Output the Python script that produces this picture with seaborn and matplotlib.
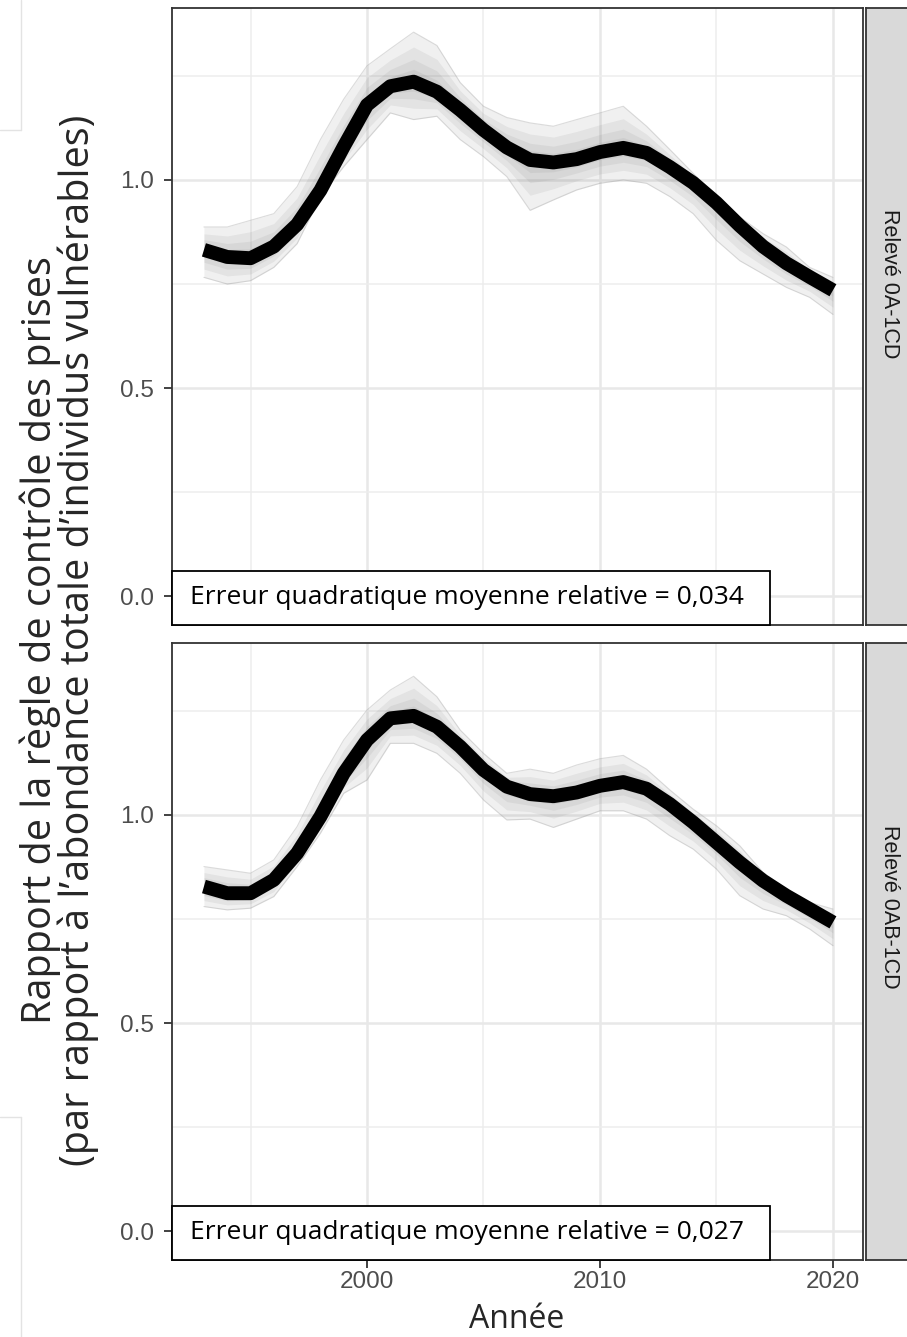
import matplotlib
matplotlib.use('Agg')
import numpy as np
import pandas as pd
import matplotlib.pyplot as plt
import seaborn as sns
from matplotlib.patches import Rectangle
from matplotlib.lines import Line2D

sns.set_theme(style="white")
plt.rcParams['font.family'] = ['Liberation Sans', 'DejaVu Sans']

# 数据
years = list(range(1993, 2021))

# Relevé 0A-1CD
main_1 = [0.832, 0.815, 0.812, 0.840, 0.893, 0.975, 1.080, 1.180, 1.225, 1.236, 1.212, 1.168,
          1.120, 1.078, 1.048, 1.042, 1.050, 1.067, 1.077, 1.065, 1.031, 0.993, 0.945, 0.890,
          0.840, 0.800, 0.767, 0.735]
hi_1 = [0.887, 0.887, 0.903, 0.919, 0.984, 1.097, 1.194, 1.274, 1.315, 1.355, 1.323, 1.234,
        1.177, 1.150, 1.137, 1.129, 1.145, 1.161, 1.177, 1.129, 1.073, 1.016, 0.960, 0.911,
        0.871, 0.839, 0.790, 0.766]
lo_1 = [0.766, 0.750, 0.758, 0.790, 0.847, 0.960, 1.032, 1.097, 1.161, 1.145, 1.153, 1.097,
        1.056, 1.008, 0.927, 0.952, 0.976, 0.992, 1.000, 0.992, 0.960, 0.919, 0.855, 0.806,
        0.774, 0.742, 0.718, 0.677]

# Relevé 0AB-1CD
main_2 = [0.828, 0.812, 0.812, 0.844, 0.908, 0.996, 1.100, 1.180, 1.232, 1.238, 1.212, 1.164,
          1.108, 1.068, 1.050, 1.045, 1.054, 1.070, 1.079, 1.063, 1.026, 0.982, 0.934, 0.886,
          0.842, 0.806, 0.774, 0.742]
hi_2 = [0.876, 0.868, 0.860, 0.892, 0.972, 1.084, 1.180, 1.252, 1.300, 1.333, 1.284, 1.204,
        1.148, 1.100, 1.110, 1.100, 1.120, 1.135, 1.143, 1.110, 1.060, 1.014, 0.974, 0.926,
        0.862, 0.822, 0.790, 0.774]
lo_2 = [0.780, 0.772, 0.776, 0.804, 0.876, 0.956, 1.052, 1.084, 1.172, 1.172, 1.148, 1.100,
        1.036, 0.988, 0.990, 0.970, 0.990, 1.010, 1.010, 0.990, 0.950, 0.918, 0.870, 0.806,
        0.774, 0.758, 0.726, 0.686]

strips = ['Relevé 0A-1CD', 'Relevé 0AB-1CD']
rmse = ['0,034', '0,027']

W, H = 907, 1337
fig = plt.figure(figsize=(W / 100, H / 100), dpi=100)


def px_axes(l, t, r, b):
    return fig.add_axes([l / W, 1 - b / H, (r - l) / W, (b - t) / H])


panels = [(8, 625, main_1, hi_1, lo_1, 0.553), (643, 1260, main_2, hi_2, lo_2, 0.572)]
main_font = ['Open Sans', 'DejaVu Sans']

for i, (top, bottom, m, hi, lo, strip_y) in enumerate(panels):
    df = pd.DataFrame({'year': years, 'main': m, 'hi': hi, 'lo': lo})
    ax = px_axes(172, top, 863, bottom)
    ax.set_facecolor('white')

    # 网格
    ax.set_xticks([2000, 2010, 2020])
    ax.set_xticks([1995, 2005, 2015], minor=True)
    ax.set_yticks([0.0, 0.5, 1.0])
    ax.set_yticks([0.25, 0.75, 1.25], minor=True)
    ax.grid(which='major', color='#e8e8e8', lw=1.8, zorder=0)
    ax.grid(which='minor', color='#ededed', lw=1.1, zorder=0)
    ax.set_axisbelow(True)

    # 模拟线的分布带
    mm = df['main'].values
    for k in [1.0, 0.7, 0.45, 0.25]:
        ax.fill_between(df['year'], mm + k * (df['hi'].values - mm), mm + k * (df['lo'].values - mm),
                        color='#7a7a7a', alpha=0.11, lw=0, zorder=2)
    sns.lineplot(data=df, x='year', y='hi', ax=ax, color='#9a9a9a', alpha=0.35, lw=0.8, zorder=3)
    sns.lineplot(data=df, x='year', y='lo', ax=ax, color='#9a9a9a', alpha=0.35, lw=0.8, zorder=3)
    sns.lineplot(data=df, x='year', y='main', ax=ax, color='black', lw=10, zorder=4,
                 solid_capstyle='butt', solid_joinstyle='round')

    ax.set_xlim(1991.63, 2021.29)
    ax.set_ylim(-0.069, 1.413)
    ax.set_xlabel('')
    ax.set_ylabel('')
    ax.set_yticklabels(['0.0', '0.5', '1.0'])
    for s in ax.spines.values():
        s.set_color('#333333')
        s.set_linewidth(1.3)
    ax.tick_params(axis='y', which='major', length=6, width=1.3, color='#333333',
                   labelcolor='#4d4d4d', labelsize=17.5, pad=7, left=True)
    ax.tick_params(which='minor', length=0)
    if i == 0:
        ax.tick_params(axis='x', which='major', length=0, labelbottom=False)
    else:
        ax.tick_params(axis='x', which='major', length=6, width=1.3, color='#333333',
                       labelcolor='#4d4d4d', labelsize=17.5, pad=2, bottom=True)
        ax.set_xticklabels(['2000', '2010', '2020'])

    # 误差文本框
    ax.add_patch(Rectangle((0, 0), 0.866, 0.088, transform=ax.transAxes, facecolor='white',
                           edgecolor='black', lw=1.3, zorder=6, clip_on=False))
    ax.text(0.026, 0.044, 'Erreur quadratique moyenne relative = ' + rmse[i], transform=ax.transAxes,
            ha='left', va='center', fontsize=19, family=main_font, color='black', zorder=7)

    # 分面标签
    sx = px_axes(866, top, 914, bottom)
    sx.set_facecolor('#d9d9d9')
    sx.set_xticks([])
    sx.set_yticks([])
    for s in sx.spines.values():
        s.set_color('#333333')
        s.set_linewidth(1.3)
    sx.text(0.5, strip_y, strips[i], rotation=-90, ha='center', va='center', fontsize=15.5,
            color='#1a1a1a', transform=sx.transAxes)

fig.text(517 / W, 1 - 1320 / H, 'Année', ha='center', va='center', fontsize=23, family=main_font)
fig.text(59 / W, 1 - 640 / H,
         'Rapport de la règle de contrôle des prises\n(par rapport à l’abondance totale d’individus vulnérables)',
         rotation=90, ha='center', va='center', multialignment='center', fontsize=28.5,
         family=main_font, linespacing=0.88)

# 左侧的浅色边框
for seg in [([21, 21], [0, 130]), ([0, 21], [130, 130]), ([0, 21], [1117, 1117]), ([21, 21], [1117, 1337])]:
    fig.add_artist(Line2D([x / W for x in seg[0]], [1 - y / H for y in seg[1]],
                          transform=fig.transFigure, color='#e3e3e3', lw=1))

fig.savefig('out.png', dpi=100)
